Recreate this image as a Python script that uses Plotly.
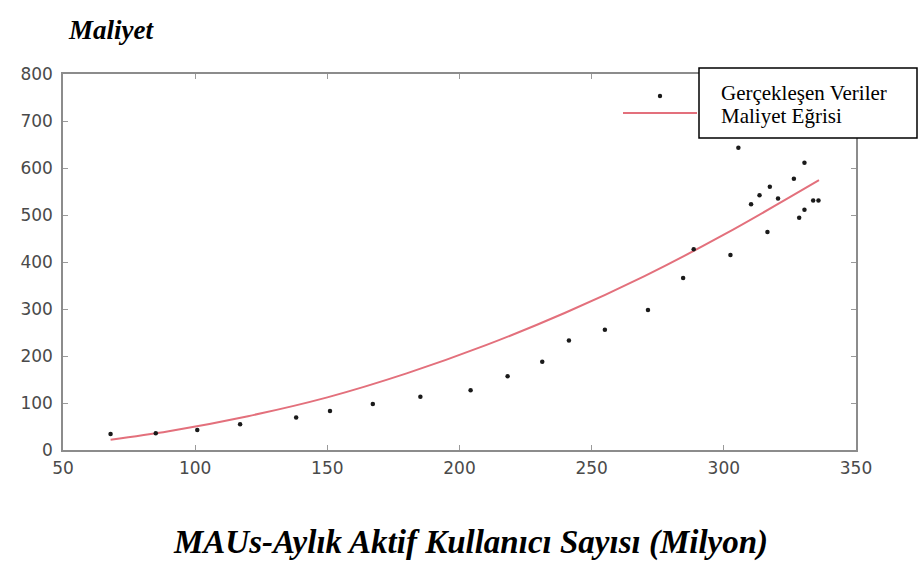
import plotly.graph_objects as go

# Observed monthly active users (millions) and cost
mau = [68.0, 85.1, 100.8, 117.0, 138.2, 151.0, 167.2, 185.2, 204.2, 218.2,
       231.3, 241.4, 255.0, 271.3, 284.6, 288.6, 302.5, 305.5, 310.3, 313.5,
       316.5, 317.4, 320.5, 326.5, 328.5, 330.5, 330.5, 333.8, 335.8]
cost = [34, 35.5, 42.5, 55, 69, 83, 98, 113.5, 127, 157,
        188, 233, 256, 298, 366, 427, 415, 643, 523, 542,
        464, 560, 535, 577, 494, 611, 511, 531, 531]

# Fitted cost curve
curve_x = [68, 90, 120, 150, 180, 210, 240, 270, 300, 336]
curve_y = [22, 40, 72, 112, 163, 223, 292, 370, 458, 574]

x_ticks = [50, 100, 150, 200, 250, 300, 350]
y_ticks = [0, 100, 200, 300, 400, 500, 600, 700, 800]

legend_labels = ["Gerçekleşen Veriler", "Maliyet Eğrisi"]
y_title = "Maliyet"
x_title = "MAUs-Aylık Aktif Kullanıcı Sayısı (Milyon)"

W, H = 918, 565
L, R, T, B = 63, 62, 74, 115
pw, ph = W - L - R, H - T - B


def px(x):
    return (x - L) / pw


def py(y):
    return (H - B - y) / ph


fig = go.Figure()
fig.add_trace(go.Scatter(
    x=curve_x, y=curve_y, mode="lines", line=dict(color="#e3707c", width=2, shape="spline"),
    showlegend=False, hoverinfo="skip"))
fig.add_trace(go.Scatter(
    x=mau, y=cost, mode="markers", marker=dict(color="#1a1a1a", size=4.5),
    showlegend=False))

axis_common = dict(
    showline=True, mirror="allticks", linecolor="#8c8c8c", linewidth=1.5,
    ticks="inside", ticklen=5, tickcolor="#9a9a9a", tickwidth=1,
    showgrid=False, zeroline=False,
    tickfont=dict(family="DejaVu Sans", size=17, color="#4a4a4a"),
)
fig.update_xaxes(range=[50, 350], tickvals=x_ticks, ticklabelstandoff=2, **axis_common)
fig.update_yaxes(range=[0, 800], tickvals=y_ticks, ticklabelstandoff=5, **axis_common)

shapes = [
    # legend samples
    dict(type="line", xref="paper", yref="paper", x0=px(623), x1=px(697), y0=py(113), y1=py(113),
         line=dict(color="#e3707c", width=2)),
    dict(type="circle", xref="paper", yref="paper", xsizemode="pixel", ysizemode="pixel",
         xanchor=px(660), yanchor=py(96), x0=-2.2, x1=2.2, y0=-2.2, y1=2.2,
         fillcolor="#1a1a1a", line=dict(width=0)),
    # legend text box
    dict(type="rect", xref="paper", yref="paper", x0=px(699), x1=px(917), y0=py(138), y1=py(68),
         fillcolor="white", line=dict(color="black", width=1.5), layer="above"),
]

serif = "Liberation Serif"
annotations = [
    dict(text=legend_labels[0], xref="paper", yref="paper", x=px(719), y=py(93),
         xanchor="left", yanchor="middle", showarrow=False,
         font=dict(family=serif, size=21, color="black")),
    dict(text=legend_labels[1], xref="paper", yref="paper", x=px(719), y=py(116),
         xanchor="left", yanchor="middle", showarrow=False,
         font=dict(family=serif, size=21, color="black")),
    dict(text="<b><i>" + y_title + "</i></b>", xref="paper", yref="paper", x=px(66), y=py(30),
         xanchor="left", yanchor="middle", showarrow=False,
         font=dict(family=serif, size=27, color="black")),
    dict(text="<b><i>" + x_title + "</i></b>", xref="paper", yref="paper", x=px(470), y=py(542),
         xanchor="center", yanchor="middle", showarrow=False,
         font=dict(family=serif, size=33, color="black")),
]

fig.update_layout(
    width=W, height=H,
    margin=dict(l=L, r=R, t=T, b=B),
    paper_bgcolor="white", plot_bgcolor="white",
    shapes=shapes, annotations=annotations,
    showlegend=False,
)

fig.write_html("out.html")
